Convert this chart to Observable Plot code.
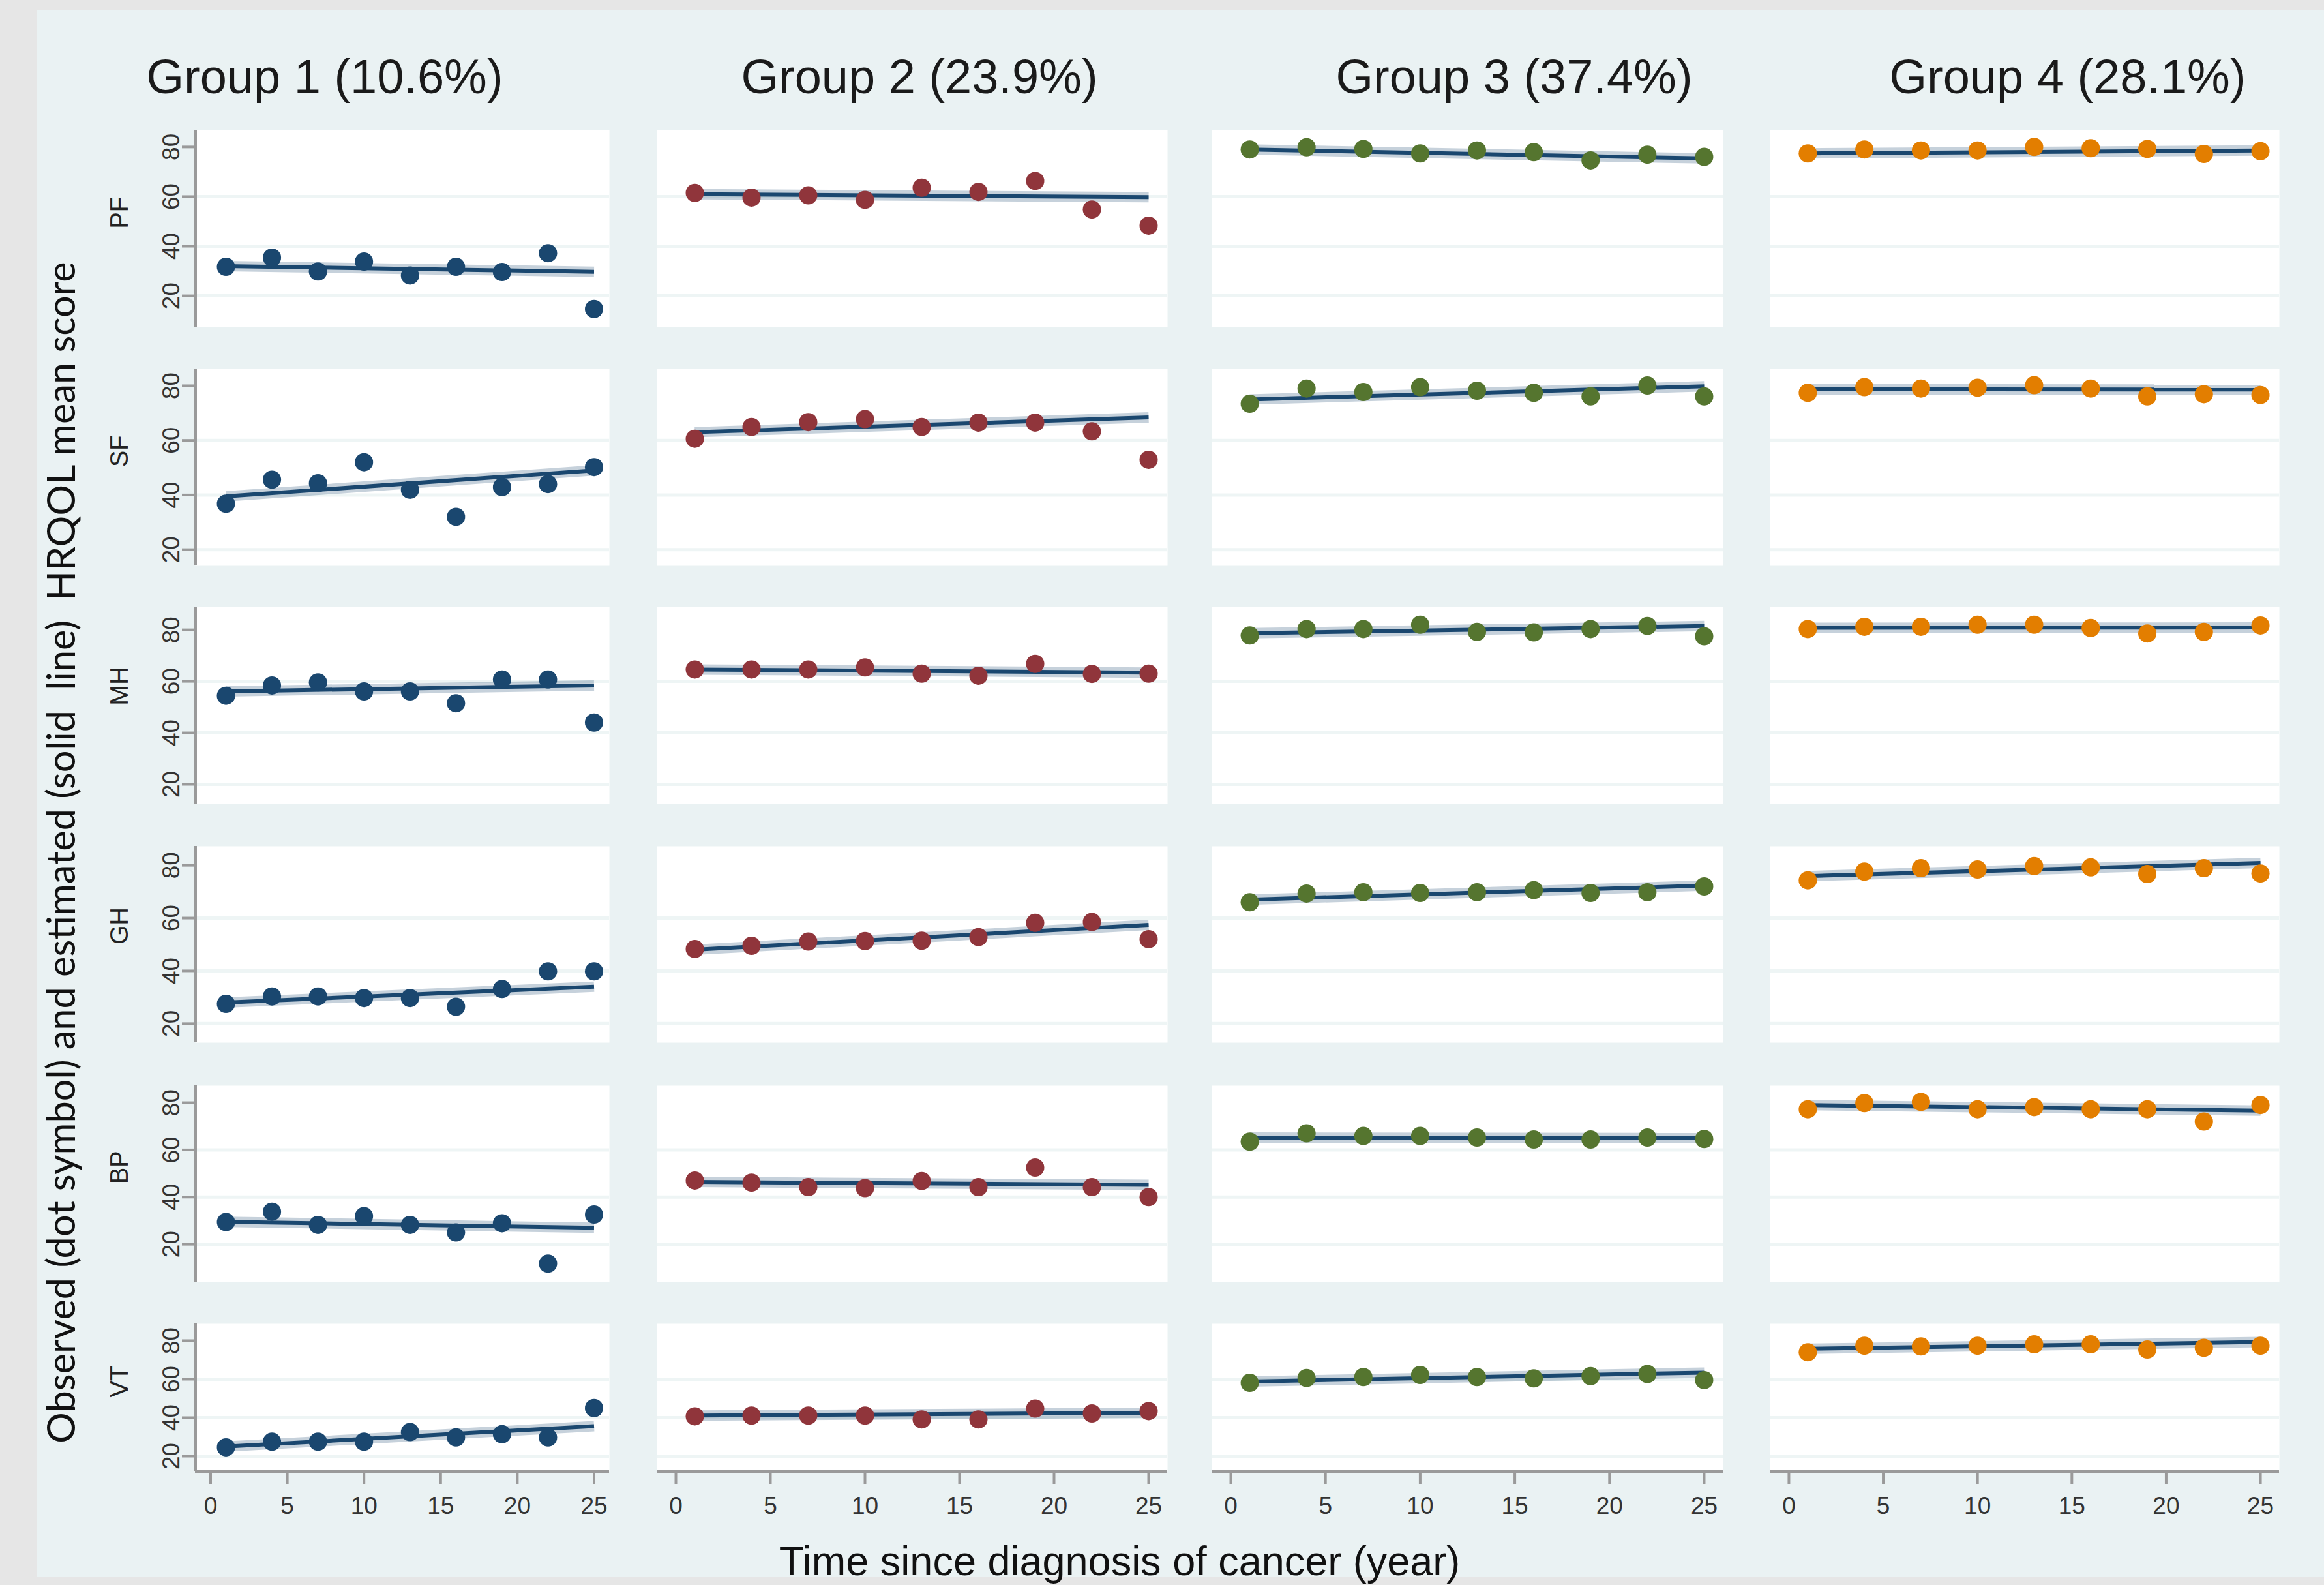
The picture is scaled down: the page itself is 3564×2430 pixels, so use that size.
<!DOCTYPE html>
<html>
<head>
<meta charset="utf-8">
<script src="https://cdn.jsdelivr.net/npm/d3@7"></script>
<script src="https://cdn.jsdelivr.net/npm/@observablehq/plot@0.6"></script>
<style>
  html, body { margin: 0; padding: 0; background: #e6e6e6; }
  #page { position: relative; width: 3564px; height: 2430px; background: #e6e6e6; overflow: hidden;
          font-family: "Liberation Sans", Arial, sans-serif; }
  #inner { position: absolute; left: 57px; top: 16px; width: 3507px; height: 2402px; background: #eaf2f3; }
</style>
</head>
<body>
<div id="page"><div id="inner"></div></div>
<script>
// ---------------- data ----------------
const groupLabels = ["Group 1 (10.6%)", "Group 2 (23.9%)", "Group 3 (37.4%)", "Group 4 (28.1%)"];
const groupColors = ["#1a476f", "#90353b", "#55752f", "#e37e00"];
const measures = ["PF", "SF", "MH", "GH", "BP", "VT"];
const years = [1, 4, 7, 10, 13, 16, 19, 22, 25];
const xTicks = [0, 5, 10, 15, 20, 25];
const yTicks = [20, 40, 60, 80];
const gridTicks = [20, 40, 60];
const xDomain = [-1, 26];

// observed mean scores (one array per group: Group 1..4)
const obsPF = [
  [31.7, 35.4, 29.8, 33.8, 28.2, 31.7, 29.6, 37.2, 14.7],
  [61.5, 59.6, 60.5, 58.7, 63.6, 61.9, 66.3, 54.8, 48.3],
  [79.0, 79.9, 79.2, 77.4, 78.6, 77.9, 74.6, 76.9, 76.0],
  [77.4, 79.0, 78.6, 78.6, 80.0, 79.5, 79.2, 77.2, 78.3]
];
const obsSF = [
  [36.8, 45.6, 44.3, 52.0, 41.9, 32.0, 42.9, 44.0, 50.2],
  [60.6, 64.9, 66.7, 67.8, 64.9, 66.5, 66.5, 63.3, 52.9],
  [73.4, 79.0, 77.7, 79.5, 78.2, 77.4, 76.1, 80.1, 76.1],
  [77.4, 79.5, 79.0, 79.3, 80.2, 79.0, 76.1, 76.9, 76.6]
];
const obsMH = [
  [54.4, 58.4, 59.6, 56.1, 56.1, 51.5, 60.7, 60.7, 44.0],
  [64.6, 64.6, 64.6, 65.4, 63.0, 62.2, 66.8, 62.9, 63.0],
  [77.8, 80.3, 80.3, 82.0, 79.2, 79.0, 80.3, 81.5, 77.5],
  [80.3, 81.2, 81.2, 82.0, 82.0, 80.7, 78.6, 79.2, 81.7]
];
const obsGH = [
  [27.5, 30.3, 30.3, 29.7, 29.7, 26.4, 33.1, 39.8, 39.8],
  [48.3, 49.5, 51.1, 51.3, 51.4, 52.8, 58.2, 58.5, 52.0],
  [66.0, 69.3, 69.8, 69.5, 69.8, 70.6, 69.5, 69.8, 72.0],
  [74.3, 77.6, 78.9, 78.4, 79.7, 79.2, 76.7, 78.9, 76.9]
];
const obsBP = [
  [29.4, 33.8, 28.2, 31.9, 28.2, 25.0, 28.9, 11.8, 32.6],
  [47.0, 46.1, 44.2, 43.8, 46.8, 44.2, 52.5, 44.2, 40.0],
  [63.5, 67.0, 65.9, 65.9, 65.2, 64.4, 64.4, 65.2, 64.6],
  [77.2, 79.8, 80.3, 77.2, 78.1, 77.2, 77.2, 72.0, 79.0]
];
const obsVT = [
  [24.6, 27.5, 27.5, 27.5, 32.5, 29.7, 31.4, 29.7, 45.0],
  [40.7, 41.1, 41.1, 41.1, 39.1, 39.1, 44.7, 42.2, 43.4],
  [58.1, 60.6, 61.1, 62.2, 61.1, 60.4, 61.6, 62.7, 59.5],
  [74.0, 77.4, 77.0, 77.4, 78.1, 78.1, 75.4, 76.3, 77.4]
];
// estimated trajectory (value at first and last year), per group
const fitPF = [[32.0, 29.7], [61.0, 59.8], [79.0, 75.4], [77.4, 78.6]];
const fitSF = [[39.5, 49.0], [63.0, 68.4], [75.0, 79.8], [78.7, 78.6]];
const fitMH = [[56.1, 58.4], [64.6, 63.4], [78.7, 81.5], [80.8, 80.9]];
const fitGH = [[28.0, 34.0], [48.0, 57.4], [67.0, 72.3], [75.9, 80.9]];
const fitBP = [[29.5, 27.0], [46.4, 45.2], [65.2, 65.0], [79.0, 76.6]];
const fitVT = [[25.0, 35.6], [41.1, 42.5], [58.8, 63.4], [75.8, 79.3]];
// y scale extent of each measure row
const yDomains = [[7.4, 86.8], [14.3, 86.2], [12.4, 88.9], [12.8, 87.2], [4.0, 87.2], [12.2, 88.8]];

const yTitle = "Observed (dot symbol) and estimated (solid  line)  HRQOL mean score";
const xTitle = "Time since diagnosis of cancer (year)";

// ---------------- layout ----------------
const colLeft = [299, 1007, 1858, 2714];
const colWidth = [635, 783, 784, 781];
const rowTop = [199, 565, 930, 1297, 1664, 2029];
const rowHeight = [302, 301, 302, 301, 301, 226];
const titleCenters = [498, 1410, 2322, 3171];

const obsByMeasure = [obsPF, obsSF, obsMH, obsGH, obsBP, obsVT];
const fitByMeasure = [fitPF, fitSF, fitMH, fitGH, fitBP, fitVT];
const page = document.getElementById("page");
const axisGray = "#9a9a9a";
const font = "'Liberation Sans', Arial, sans-serif";

measures.forEach((m, r) => {
  groupLabels.forEach((g, c) => {
    const first = c === 0;
    const last = r === measures.length - 1;
    const ml = first ? 150 : 0;
    const mb = last ? 90 : 0;
    const pts = years.map((yr, i) => ({year: yr, value: obsByMeasure[r][c][i]}));
    const fit = [
      {year: years[0], value: fitByMeasure[r][c][0]},
      {year: years[years.length - 1], value: fitByMeasure[r][c][1]}
    ];
    const marks = [
      Plot.frame({fill: "white", stroke: "none"}),
      Plot.gridY(gridTicks, {stroke: "#eaf2f3", strokeOpacity: 0.8, strokeWidth: 5}),
      Plot.line(fit, {x: "year", y: "value", stroke: "#1a476f", strokeOpacity: 0.25, strokeWidth: 16, strokeLinecap: "butt"}),
      Plot.line(fit, {x: "year", y: "value", stroke: "#1a476f", strokeWidth: 6, strokeLinecap: "butt"}),
      Plot.dot(pts, {x: "year", y: "value", r: 14, fill: groupColors[c], stroke: "none"})
    ];
    if (first) {
      marks.push(Plot.axisY(yTicks, {anchor: "left", tickSize: 20, tickPadding: 5, tickRotate: -90,
        fontSize: 37, stroke: axisGray, strokeWidth: 4, fill: "#333", label: null}));
      marks.push(Plot.ruleX([xDomain[0]], {stroke: axisGray, strokeWidth: 5}));
      marks.push(Plot.text([m], {text: d => d, frameAnchor: "left", rotate: -90, dx: -116,
        fontSize: 38, fill: "#222"}));
    }
    if (last) {
      marks.push(Plot.axisX(xTicks, {anchor: "bottom", tickSize: 20, tickPadding: 19,
        fontSize: 37, stroke: axisGray, strokeWidth: 4, fill: "#333", label: null}));
      marks.push(Plot.ruleY([yDomains[r][0]], {stroke: axisGray, strokeWidth: 5}));
    }
    const svg = Plot.plot({
      width: colWidth[c] + ml,
      height: rowHeight[r] + mb,
      marginLeft: ml, marginRight: 0, marginTop: 0, marginBottom: mb,
      x: {domain: xDomain, axis: null},
      y: {domain: yDomains[r], axis: null},
      style: {background: "transparent", fontFamily: font, overflow: "visible"},
      marks
    });
    svg.style.position = "absolute";
    svg.style.left = (colLeft[c] - ml) + "px";
    svg.style.top = rowTop[r] + "px";
    page.appendChild(svg);
  });
});

// titles and axis titles
const overlay = d3.select("#page").append("svg")
  .attr("width", 3564).attr("height", 2430)
  .style("position", "absolute").style("left", "0px").style("top", "0px")
  .style("pointer-events", "none");

overlay.selectAll("text.gtitle").data(groupLabels).join("text")
  .attr("class", "gtitle")
  .attr("x", (d, i) => titleCenters[i]).attr("y", 143)
  .attr("text-anchor", "middle")
  .attr("font-family", font).attr("font-size", 74).attr("fill", "#1a1a1a")
  .text(d => d);

overlay.append("text")
  .attr("x", 1717).attr("y", 2415)
  .attr("text-anchor", "middle")
  .attr("font-family", font).attr("font-size", 63).attr("fill", "#111")
  .text(xTitle);

overlay.append("text")
  .attr("transform", "translate(115,1307) rotate(-90)")
  .attr("text-anchor", "middle")
  .attr("font-family", "Lato, 'Open Sans', sans-serif").attr("font-size", 59.5).attr("fill", "#111")
  .style("white-space", "pre")
  .attr("xml:space", "preserve")
  .text(yTitle);
</script>
</body>
</html>
